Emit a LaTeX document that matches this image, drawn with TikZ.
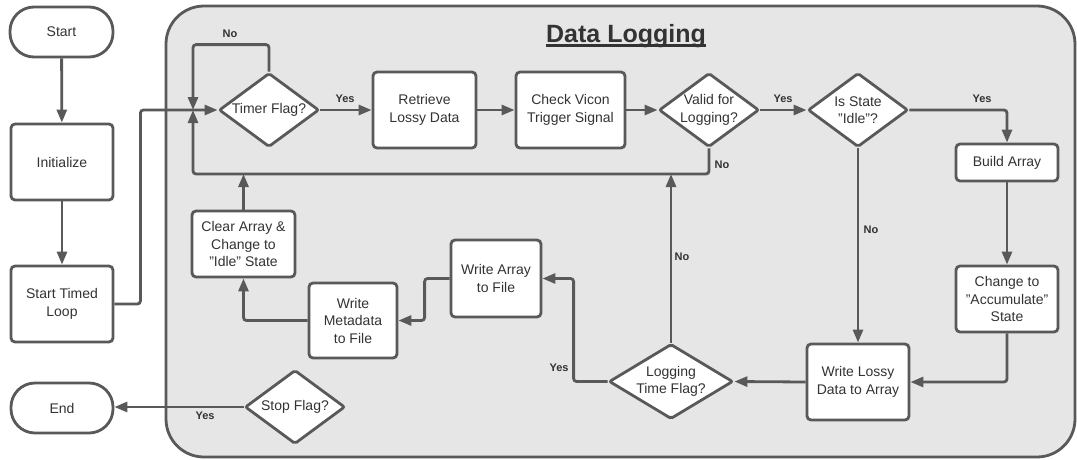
\documentclass[tikz,border=0pt]{standalone}
\usepackage{fontspec}
\setmainfont{Liberation Sans}
\usetikzlibrary{shapes.geometric,arrows.meta}
\definecolor{edge}{HTML}{595959}
\definecolor{ink}{HTML}{333333}
\definecolor{panel}{HTML}{E6E6E6}

\begin{document}
\begin{tikzpicture}[x=1pt,y=-1pt,
  font=\fontsize{14}{17.5}\selectfont, text=ink,
  box/.style={draw=edge, line width=2.8pt, fill=white, rounded corners=4pt,
    align=center, inner sep=0pt},
  term/.style={box, rounded corners=24pt},
  choice/.style={draw=edge, line width=2.8pt, fill=white, diamond, align=center,
    inner sep=0pt, aspect=1.34, rounded corners=2pt},
  conn/.style={draw=edge, line width=2.8pt, rounded corners=3pt,
    -{Triangle[length=13pt,width=10pt]}},
  lab/.style={font=\bfseries\fontsize{11}{13}\selectfont, text=ink, inner sep=0pt}]

\useasboundingbox (0,0) rectangle (1077,459);

% loop container
\draw[draw=edge, line width=2.8pt, fill=panel, rounded corners=38pt]
  (166,6) rectangle (1075,457);

% title
\node[font=\bfseries\fontsize{25}{30}\selectfont, inner sep=0pt, anchor=base]
  (title) at (626,42.5) {Data Logging};
\draw[ink, line width=2.2pt] ([yshift=-3pt]title.base west) -- ([yshift=-3pt]title.base east);

% start-up column
\node[term, minimum width=103pt, minimum height=50pt] (start) at (61.5,32) {Start};
\node[box, minimum width=102pt, minimum height=76pt] (init) at (62,162) {Initialize};
\node[box, minimum width=102pt, minimum height=76pt] (loop) at (62,304) {Start Timed\\Loop};
\node[term, minimum width=102pt, minimum height=50pt] (endn) at (62,408) {End};

% top row
\node[choice, minimum width=100pt, minimum height=74pt] (timer) at (269,110) {Timer Flag?};
\node[box, minimum width=103pt, minimum height=76pt] (retr) at (424.5,110) {Retrieve\\Lossy Data};
\node[box, minimum width=109pt, minimum height=76pt] (vicon) at (570.5,110) {Check Vicon\\Trigger Signal};
\node[choice, minimum width=100pt, minimum height=74pt] (valid) at (709,110) {Valid for\\Logging?};
\node[choice, minimum width=100pt, minimum height=74pt] (idle) at (858,110) {Is State\\"Idle"?};

% right column
\node[box, minimum width=102pt, minimum height=37pt] (build) at (1007,162.5) {Build Array};
\node[box, minimum width=102pt, minimum height=66pt] (accum) at (1007,299) {Change to\\"Accumulate"\\State};
\node[box, minimum width=102pt, minimum height=76pt] (wlossy) at (858,382) {Write Lossy\\Data to Array};

% return path
\node[choice, aspect=1.64, minimum width=124pt, minimum height=75pt] (logtime) at (671,381.5) {Logging\\Time Flag?};
\node[box, minimum width=90pt, minimum height=77pt] (warray) at (496,278.5) {Write Array\\to File};
\node[box, minimum width=88pt, minimum height=75pt] (wmeta) at (353,320.5) {Write\\Metadata\\to File};
\node[box, minimum width=103pt, minimum height=66pt] (clear) at (243.5,244) {Clear Array \&\\Change to\\"Idle" State};
\node[choice, minimum width=100pt, minimum height=74pt] (stop) at (295,407) {Stop Flag?};

% junction in front of the timer check and the shared return line
\coordinate (j) at (193,110);
\coordinate (bus) at (0,174);

% connectors
\draw[conn] (start) -- (init);
\draw[conn] (init) -- (loop);
\draw[conn] (loop.east) -- ([xshift=26pt]loop.east) |- (timer.west);
\draw[conn] (timer.north) -- ++(0,-27) -| (j);
\draw[conn] (valid.south) |- (bus -| j) -- (j);
\draw[conn] (clear.north) -- (clear.north |- bus);
\draw[conn] (logtime.north) -- (logtime.north |- bus);
\draw[conn] (timer.east) -- (retr.west);
\draw[conn] (retr.east) -- (vicon.west);
\draw[conn] (vicon.east) -- (valid.west);
\draw[conn] (valid.east) -- (idle.west);
\draw[conn] (idle.east) -| (build.north);
\draw[conn] (idle.south) -- (wlossy.north);
\draw[conn] (build.south) -- (accum.north);
\draw[conn] (accum.south) |- (wlossy.east);
\draw[conn] (wlossy.west) -- (logtime.east);
\draw[conn] (logtime.west) -- ++(-34,0) |- (warray.east);
\draw[conn] (warray.west) -- ++(-25,0) |- (wmeta.east);
\draw[conn] (wmeta.west) -| (clear.south);
\draw[conn] (stop.west) -- (stop.west -| endn.east);

% branch labels
\node[lab] (l1) at (230,34) {No};
\node[lab] (l2) at (345,99) {Yes};
\node[lab] (l3) at (783,99) {Yes};
\node[lab] (l4) at (982,99) {Yes};
\node[lab] (l5) at (722,165) {No};
\node[lab] (l6) at (871,230) {No};
\node[lab] (l7) at (682,257) {No};
\node[lab] (l8) at (559,368) {Yes};
\node[lab] (l9) at (205,416) {Yes};
\end{tikzpicture}
\end{document}
